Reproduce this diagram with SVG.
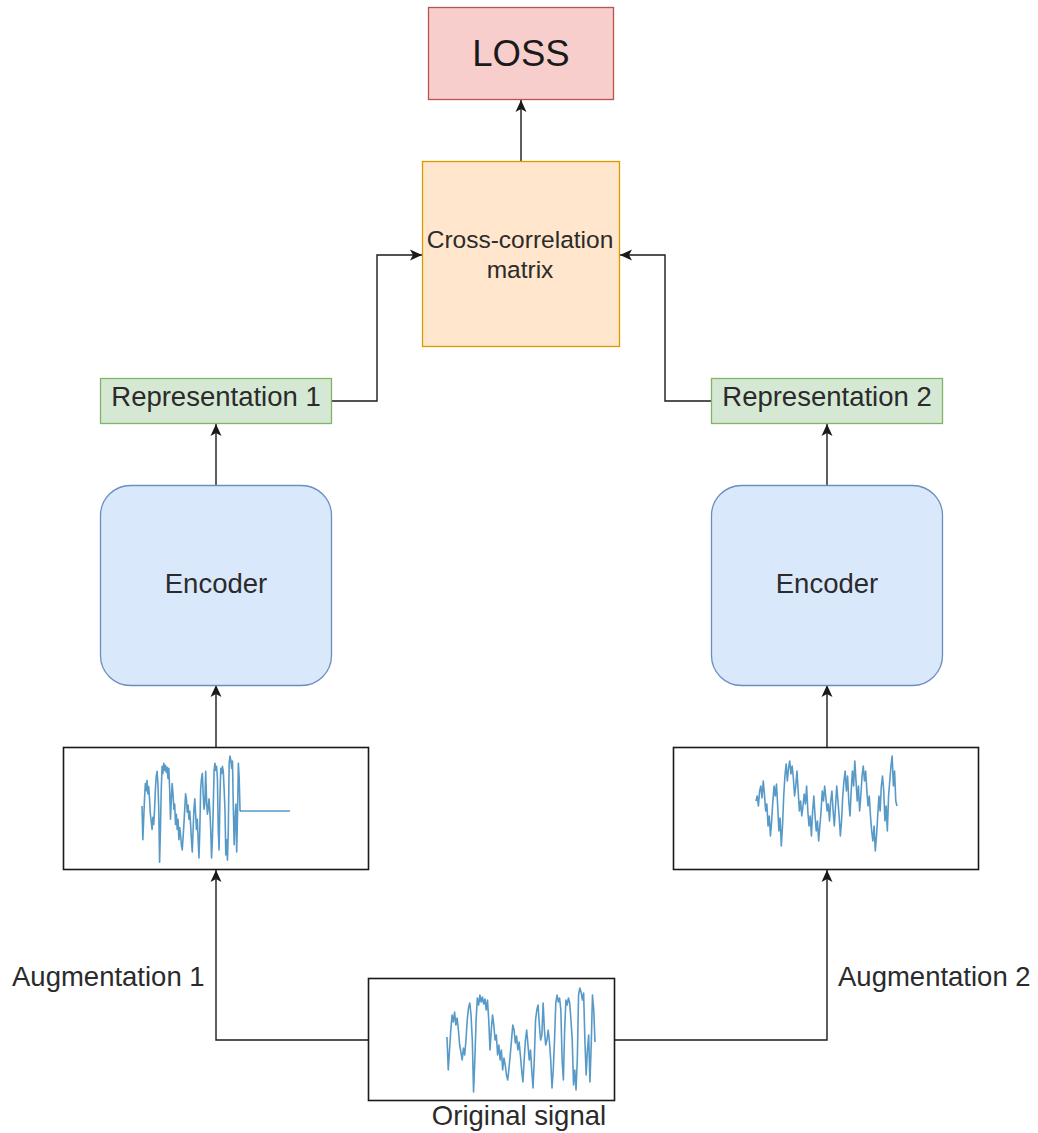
<svg xmlns="http://www.w3.org/2000/svg" xmlns:xlink="http://www.w3.org/1999/xlink" width="1038" height="1133" viewBox="0 0 1038 1133">
  <style>
    .lbl { font-family: "Liberation Sans", Arial, sans-serif; fill: #2b2b2b; }
    .edge { fill: none; stroke: #1a1a1a; stroke-width: 1.4; }
    .plotbox { fill: #ffffff; stroke: #1a1a1a; stroke-width: 1.6; }
    .sig { fill: none; stroke: #1f77b4; stroke-width: 1.6; stroke-opacity: 0.75; stroke-linejoin: round; vector-effect: non-scaling-stroke; }
  </style>
  <defs>
    <marker id="arrow" markerUnits="userSpaceOnUse" markerWidth="16" markerHeight="14" viewBox="-13 -7 14 14" refX="0" refY="0" orient="auto">
      <path d="M -12,-5.5 L 0,0 L -12,5.5 L -9,0 Z" fill="#1a1a1a"/>
    </marker>
    <!-- raw signal trace, local units: x 0..117, y 0..108 -->
    <polyline id="sigA" class="sig" points="0,52 1,85 2,65 3,45 4,30 5,37 6,27 7,40 8,33 9,45 10,60 11,67 12,75 13,63 14,70 15,55 16,35 17,23 18,18 19,30 20,55 21,107 22,75 23,35 24,13 25,20 26,10 27,17 28,12 29,19 30,14 31,25 32,15 33,35 34,65 35,45 36,30 37,40 38,55 39,50 40,70 41,60 42,75 43,65 44,85 45,73 46,80 47,90 48,95 49,83 50,70 51,55 52,40 53,45 54,58 55,51 56,65 57,57 58,70 59,85 60,97 61,75 62,55 63,45 64,60 65,75 66,65 67,85 68,103 69,75 70,35 71,25 72,20 73,40 74,55 75,50 76,18 77,45 78,60 79,55 80,45 81,57 82,75 83,103 84,85 85,55 86,18 87,10 88,17 89,13 90,25 91,75 92,95 93,45 94,15 95,20 96,13 97,18 98,35 99,55 100,100 101,85 102,105 103,75 104,10 105,3 106,7 107,15 108,8 109,55 110,90 111,65 112,50 113,97 114,60 115,10 116,25 117,57"/>
    <!-- noisy variant, local units: x 0..117, y 0..104 -->
    <polyline id="sigB" class="sig" points="0,45 1,40 2,50 3,35 4,30 5,42 6,25 7,38 8,55 9,48 10,70 11,60 12,80 13,65 14,45 15,30 16,40 17,28 18,50 19,75 20,62 21,90 22,70 23,40 24,20 25,8 26,25 27,12 28,5 29,18 30,10 31,22 32,40 33,30 34,15 35,35 36,55 37,45 38,60 39,50 40,38 41,48 42,30 43,55 44,70 45,60 46,80 47,55 48,40 49,60 50,75 51,65 52,85 53,70 54,55 55,35 56,45 57,30 58,42 59,55 60,48 61,65 62,45 63,35 64,55 65,70 66,50 67,30 68,45 69,60 70,80 71,65 72,40 73,25 74,15 75,35 76,20 77,45 78,60 79,35 80,15 81,30 82,5 83,25 84,45 85,30 86,55 87,40 88,20 89,10 90,25 91,15 92,35 93,50 94,40 95,60 96,75 97,85 98,70 99,95 100,80 101,60 102,40 103,55 104,30 105,20 106,35 107,65 108,50 109,75 110,40 111,25 112,10 113,0 114,30 115,15 116,45 117,50"/>
  </defs>

  <rect width="1038" height="1133" fill="#ffffff"/>

  <!-- connectors -->
  <g id="connectors">
    <line class="edge" x1="521" y1="161" x2="521" y2="100" marker-end="url(#arrow)"/>
    <polyline class="edge" points="331,401 377,401 377,255 422,255" marker-end="url(#arrow)"/>
    <polyline class="edge" points="711,401 665,401 665,255 620,255" marker-end="url(#arrow)"/>
    <line class="edge" x1="216" y1="485" x2="216" y2="424" marker-end="url(#arrow)"/>
    <line class="edge" x1="827" y1="485" x2="827" y2="424" marker-end="url(#arrow)"/>
    <line class="edge" x1="216" y1="747" x2="216" y2="685" marker-end="url(#arrow)"/>
    <line class="edge" x1="827" y1="747" x2="827" y2="685" marker-end="url(#arrow)"/>
    <polyline class="edge" points="368,1040 216,1040 216,870" marker-end="url(#arrow)"/>
    <polyline class="edge" points="615,1040 827,1040 827,870" marker-end="url(#arrow)"/>
  </g>

  <!-- loss -->
  <g id="loss">
    <rect x="428.5" y="7.5" width="185" height="92" fill="#f8cecc" stroke="#b85450" stroke-width="1.3"/>
    <text class="lbl" x="521" y="66" font-size="36.5" text-anchor="middle" style="fill:#1a1a1a">LOSS</text>
  </g>

  <!-- cross-correlation matrix -->
  <g id="xcorr">
    <rect x="422.5" y="161.5" width="197" height="185" fill="#ffe6cc" stroke="#d79b00" stroke-width="1.3"/>
    <text class="lbl" x="520" y="248" font-size="24.5" text-anchor="middle">Cross-correlation</text>
    <text class="lbl" x="520" y="278" font-size="24.5" text-anchor="middle">matrix</text>
  </g>

  <!-- representations -->
  <g id="rep1">
    <rect x="100.5" y="378.5" width="231" height="45" fill="#d5e8d4" stroke="#82b366" stroke-width="1.3"/>
    <text class="lbl" x="216" y="406" font-size="27.5" text-anchor="middle">Representation 1</text>
  </g>
  <g id="rep2">
    <rect x="711.5" y="378.5" width="231" height="45" fill="#d5e8d4" stroke="#82b366" stroke-width="1.3"/>
    <text class="lbl" x="827" y="406" font-size="27.5" text-anchor="middle">Representation 2</text>
  </g>

  <!-- encoders -->
  <g id="encoder1">
    <rect x="100.5" y="485.5" width="231" height="200" rx="30" ry="30" fill="#dae8fc" stroke="#6c8ebf" stroke-width="1.3"/>
    <text class="lbl" x="216" y="593" font-size="27.5" text-anchor="middle">Encoder</text>
  </g>
  <g id="encoder2">
    <rect x="711.5" y="485.5" width="231" height="200" rx="30" ry="30" fill="#dae8fc" stroke="#6c8ebf" stroke-width="1.3"/>
    <text class="lbl" x="827" y="593" font-size="27.5" text-anchor="middle">Encoder</text>
  </g>

  <!-- augmented view 1: cropped trace followed by flat padding -->
  <g id="view1">
    <rect class="plotbox" x="63.5" y="747.5" width="305" height="122"/>
    <use xlink:href="#sigA" href="#sigA" transform="translate(142,753) scale(0.838,1.02)"/>
    <line x1="240" y1="811" x2="290" y2="811" stroke="#1f77b4" stroke-width="1.6" stroke-opacity="0.75"/>
  </g>

  <!-- augmented view 2: noisy trace -->
  <g id="view2">
    <rect class="plotbox" x="673.5" y="747.5" width="305" height="122"/>
    <use xlink:href="#sigB" href="#sigB" transform="translate(756,756) scale(1.205,1)"/>
  </g>

  <!-- original signal -->
  <g id="original">
    <rect class="plotbox" x="368.5" y="978.5" width="246" height="122"/>
    <use xlink:href="#sigA" href="#sigA" transform="translate(447,985) scale(1.265,1)"/>
    <text class="lbl" x="519" y="1125" font-size="27.5" text-anchor="middle">Original signal</text>
  </g>

  <!-- augmentation labels -->
  <g id="aug-labels">
    <text class="lbl" x="12" y="986" font-size="27.5">Augmentation 1</text>
    <text class="lbl" x="838" y="986" font-size="27.5">Augmentation 2</text>
  </g>
</svg>
